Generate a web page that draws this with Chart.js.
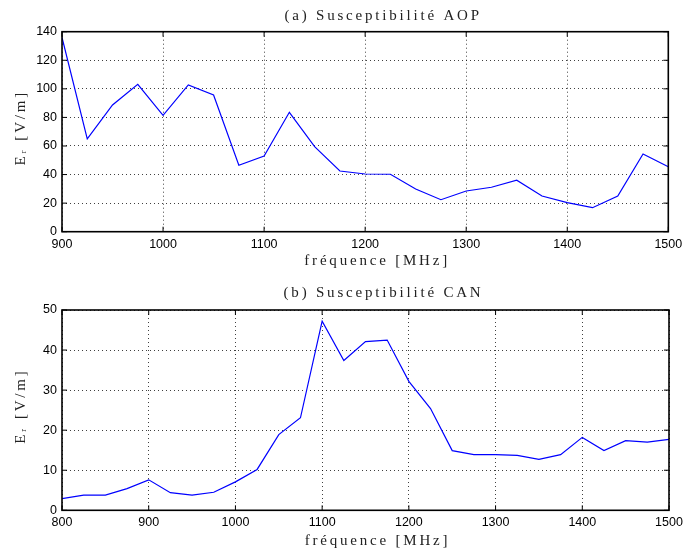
<!DOCTYPE html>
<html>
<head>
<meta charset="utf-8">
<script src="https://cdn.jsdelivr.net/npm/chart.js@4/dist/chart.umd.min.js"></script>
<style>
  html, body { margin: 0; padding: 0; background: #fff; }
  body { width: 684px; height: 551px; position: relative; overflow: hidden; }
  canvas { position: absolute; left: 0; }
</style>
</head>
<body>
<canvas id="c1" width="684" height="276" style="top:0px"></canvas>
<canvas id="c2" width="684" height="275" style="top:276px"></canvas>
<script>
// ---- data ----
const freqA = [900, 925, 950, 975, 1000, 1025, 1050, 1075, 1100, 1125, 1150, 1175, 1200,
               1225, 1250, 1275, 1300, 1325, 1350, 1375, 1400, 1425, 1450, 1475, 1500];
const aopVals = [136, 65, 88.7, 103.2, 81.5, 102.7, 95.7, 46.5, 53, 83.6, 59.5, 42.5, 40.4,
                 40.2, 29.9, 22.4, 28.5, 31.1, 36, 25, 20.3, 16.8, 25, 54.4, 45.5];
const freqB = [800, 825, 850, 875, 900, 925, 950, 975, 1000, 1025, 1050, 1075, 1100, 1125,
               1150, 1175, 1200, 1225, 1250, 1275, 1300, 1325, 1350, 1375, 1400, 1425, 1450, 1475, 1500];
const canVals = [2.9, 3.8, 3.8, 5.4, 7.6, 4.4, 3.8, 4.5, 7.1, 10.2, 18.9, 23.1, 47.2, 37.4,
                 42.1, 42.5, 32.2, 25.4, 14.9, 13.9, 13.9, 13.7, 12.7, 13.9, 18.2, 14.9, 17.4, 17.0, 17.7];
const titleA = '(a) Susceptibilité AOP';
const titleB = '(b) Susceptibilité CAN';
const xTitle = 'fréquence [MHz]';
const yTitle = 'Eᵣ [V/m]';
const xRangeA = [900, 1500], yRangeA = [0, 140], yStepA = 20;
const xRangeB = [800, 1500], yRangeB = [0, 50], yStepB = 10;
const xStep = 100;

const SERIF = '"Liberation Serif", "DejaVu Serif", serif';
const SANS = '"Liberation Sans", Arial, Helvetica, sans-serif';

// frame, inward ticks and spaced serif titles
const matlabStyle = {
  id: 'matlabStyle',
  beforeDraw(chart, args, opts) {
    if (chart.$patched) return;
    chart.$patched = true;
    const ctx = chart.ctx;
    const tb = chart.titleBlock;
    if (tb) {
      const orig = tb.draw.bind(tb);
      tb.draw = function () {
        ctx.save();
        ctx.letterSpacing = opts.spacing + 'px';
        ctx.translate(opts.titleShift, 0);
        orig();
        ctx.restore();
      };
    }
    const sx = chart.scales.x, sy = chart.scales.y;
    const ox = sx.drawTitle.bind(sx);
    sx.drawTitle = function () {
      ctx.save();
      ctx.letterSpacing = opts.spacing + 'px';
      ctx.translate(opts.xTitleShift, 0);
      ox();
      ctx.restore();
    };
    const oy = sy.drawTitle.bind(sy);
    sy.drawTitle = function () {
      ctx.save();
      ctx.letterSpacing = opts.spacing + 'px';
      ctx.translate(0, opts.yTitleShift);
      oy();
      ctx.restore();
    };
  },
  afterDraw(chart) {
    const ctx = chart.ctx;
    const a = chart.chartArea;
    const sx = chart.scales.x, sy = chart.scales.y;
    const L = 5;
    ctx.save();
    ctx.strokeStyle = '#000';
    ctx.lineWidth = 1;
    ctx.beginPath();
    sx.ticks.forEach(t => {
      const px = sx.getPixelForValue(t.value);
      ctx.moveTo(px, a.bottom); ctx.lineTo(px, a.bottom - L);
      ctx.moveTo(px, a.top); ctx.lineTo(px, a.top + L);
    });
    sy.ticks.forEach(t => {
      const py = sy.getPixelForValue(t.value);
      ctx.moveTo(a.left, py); ctx.lineTo(a.left + L, py);
      ctx.moveTo(a.right, py); ctx.lineTo(a.right - L, py);
    });
    ctx.stroke();
    ctx.lineWidth = 1.6;
    ctx.strokeRect(a.left, a.top, a.right - a.left, a.bottom - a.top);
    ctx.restore();
  }
};

function makeChart(id, xs, ys, title, xr, yr, ystep, lay) {
  const pts = xs.map((x, i) => ({ x: x, y: ys[i] }));
  return new Chart(document.getElementById(id), {
    type: 'line',
    data: { datasets: [{ data: pts, borderColor: '#0000ff', borderWidth: 1.2,
                         pointRadius: 0, tension: 0, fill: false }] },
    plugins: [matlabStyle],
    options: {
      responsive: false, animation: false, devicePixelRatio: 1,
      layout: { padding: { left: 0, right: lay.right, top: 0, bottom: 0 } },
      plugins: {
        legend: { display: false }, tooltip: { enabled: false },
        title: { display: true, text: title, color: '#222',
                 font: { family: SERIF, size: 15, weight: 'normal', lineHeight: 1.2 },
                 padding: { top: lay.tTop, bottom: lay.tBot } },
        matlabStyle: { spacing: 2.8, titleShift: 49, xTitleShift: 12, yTitleShift: -4 }
      },
      scales: {
        x: {
          type: 'linear', min: xr[0], max: xr[1],
          afterFit(s) { s.height = lay.xh; s.paddingLeft = 0; s.paddingRight = 0; },
          ticks: { stepSize: xStep, color: '#000', padding: 5, maxRotation: 0,
                   format: { useGrouping: false },
                   font: { family: SANS, size: 12.5 } },
          grid: { color: 'rgba(0,0,0,0.75)', lineWidth: 1, drawTicks: false },
          border: { display: false, dash: [1, 3] },
          title: { display: true, text: xTitle, color: '#222',
                   font: { family: SERIF, size: 15, lineHeight: 1.2 },
                   padding: { top: 0, bottom: lay.xtBot } }
        },
        y: {
          type: 'linear', min: yr[0], max: yr[1],
          afterFit(s) { s.width = 62; s.paddingTop = 0; s.paddingBottom = 0; },
          ticks: { stepSize: ystep, color: '#000', padding: 5,
                   format: { useGrouping: false },
                   font: { family: SANS, size: 12.5 } },
          grid: { color: 'rgba(0,0,0,0.75)', lineWidth: 1, drawTicks: false },
          border: { display: false, dash: [1, 3] },
          title: { display: true, text: yTitle, color: '#222',
                   font: { family: SERIF, size: 15, lineHeight: 1.2 },
                   padding: { top: 12, bottom: 0 } }
        }
      }
    }
  });
}

makeChart('c1', freqA, aopVals, titleA, xRangeA, yRangeA, yStepA,
          { right: 15.7, tTop: 7, tBot: 6.7, xh: 44.3, xtBot: 5.6 });
makeChart('c2', freqB, canVals, titleB, xRangeB, yRangeB, yStepB,
          { right: 15, tTop: 7.6, tBot: 8.4, xh: 40.7, xtBot: 0.6 });
</script>
</body>
</html>
